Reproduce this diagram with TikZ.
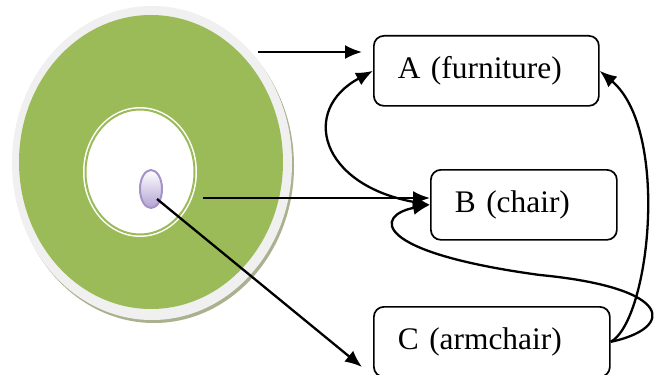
\documentclass[tikz,border=0pt]{standalone}
\usepackage{fontspec}
\setmainfont{Liberation Serif}
\usetikzlibrary{shapes.geometric, arrows.meta, positioning}
\definecolor{discgreen}{HTML}{9BBB59}
\definecolor{discrim}{HTML}{F0F0F0}
\definecolor{discshadow}{HTML}{A9B18F}
\definecolor{corelilac}{HTML}{B3A3D4}
\definecolor{coreedge}{HTML}{A493C9}

\begin{document}
\begin{tikzpicture}[
    x=0.5pt, y=-0.5pt,
    box/.style={draw, line width=0.85pt, rounded corners=5pt, minimum height=35pt, inner xsep=12pt, align=left, anchor=north west, font=\fontsize{15.7}{19}\selectfont},
    link/.style={draw, line width=1.15pt, -{Latex[length=8.5pt, width=7pt]}},
    core/.style={ellipse, draw=coreedge, line width=1pt, top color=white, bottom color=corelilac, minimum width=11pt, minimum height=19pt, inner sep=0pt}
]
    \useasboundingbox (0,0) rectangle (656,374);

    % Disc (shadow, rim, green ring)
    \fill[discshadow] (154,166) ellipse [x radius=140, y radius=157];
    \fill[discrim] (152,163) ellipse [x radius=140, y radius=157];
    \fill[discgreen] (151,162) ellipse [x radius=132, y radius=147];

    % Inner white part
    \fill[white] (140,172) ellipse [x radius=57, y radius=65];
    \draw[discgreen, line width=1pt] (140,172) ellipse [x radius=54.5, y radius=62.5];
    \node[core] (core) at (151,189) {};

    % Boxes
    \node[box, text width=88.5pt, minimum width=112.5pt] (furniture) at (373,35) {A (furniture)};
    \node[box, text width=69pt, minimum width=93pt] (chair) at (430,169) {B (chair)};
    \node[box, text width=94pt, minimum width=118pt] (armchair) at (373,306) {C (armchair)};

    % Free ends of the disc arrows
    \coordinate (rimfrom) at (258,52);
    \coordinate (rimto) at (362,52);
    \coordinate (ringfrom) at (203,198);
    \coordinate (corefrom) at (157,199);
    \coordinate (coreto) at (362,367);

    % Arrows
    \draw[link] (rimfrom) -- (rimto);
    \draw[link] (ringfrom) -- (ringfrom -| chair.west);
    \draw[link] (corefrom) -- (coreto);
    \draw[link, {Latex[length=8.5pt, width=7pt]}-{Latex[length=8.5pt, width=7pt]}] (furniture.west) .. controls (300,110) and (320,185) .. (chair.west);
    \draw[link] (armchair.east) .. controls (650,320) and (670,130) .. (furniture.east);
    \draw[link] (armchair.east) .. controls (675,328) and (675,288) .. (540,275) .. controls (370,252) and (375,215) .. (chair.west);
\end{tikzpicture}
\end{document}
